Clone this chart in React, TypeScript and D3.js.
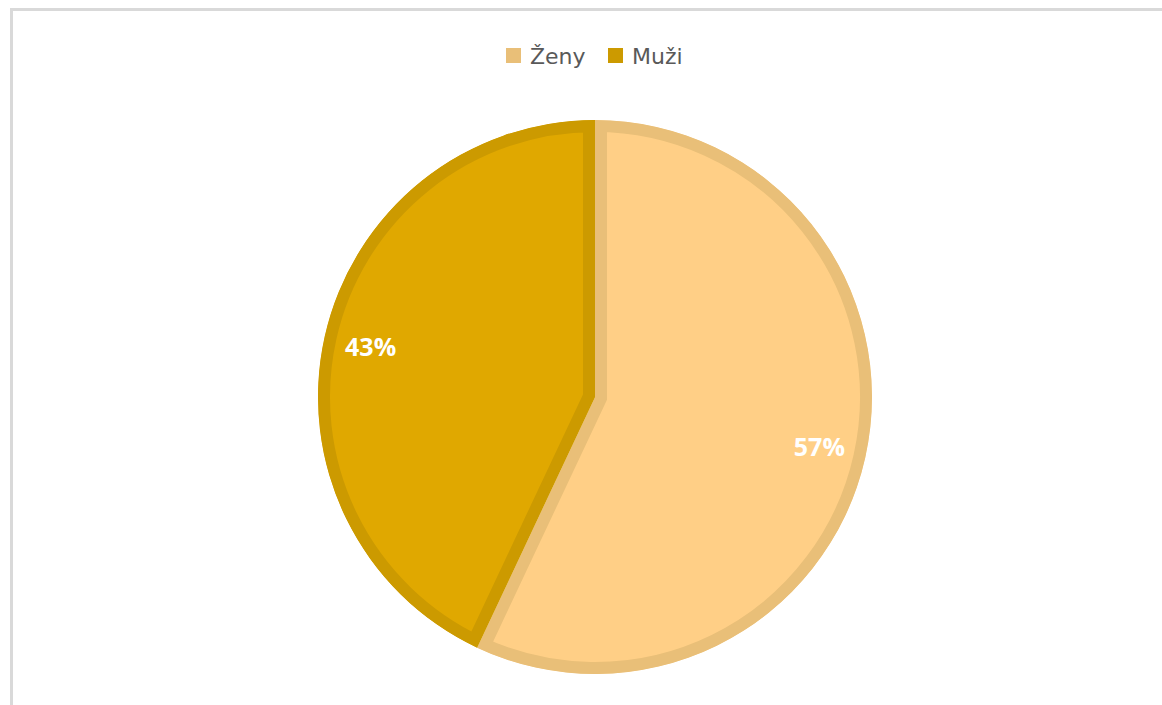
import React from "react";
import * as d3 from "d3";

const categories = ["Ženy", "Muži"];
const values = [57, 43];
const fills = ["#FFCF86", "#E0A800"];
const strokes = ["#E9BF78", "#CC9A00"];

const W = 1162;
const H = 705;
const cx = 595;
const cy = 397;
const R = 277;
const SW = 12;

export default function App() {
  const pie = d3.pie<number>().sort(null).value((d) => d)
    .startAngle(0).endAngle(2 * Math.PI);
  const arcs = pie(values);
  const arcGen = d3.arc<d3.PieArcDatum<number>>().innerRadius(0).outerRadius(R);
  const total = d3.sum(values);

  return (
    <svg width={W} height={H} style={{ position: "absolute", left: 0, top: 0 }}
      fontFamily="'Open Sans', sans-serif">
      <rect x={0} y={0} width={W} height={H} fill="#fff" />
      <line x1={11.5} y1={8} x2={11.5} y2={H} stroke="#d9d9d9" strokeWidth={3} />
      <line x1={10} y1={9.5} x2={W} y2={9.5} stroke="#d9d9d9" strokeWidth={3} />
      <defs>
        {arcs.map((a, i) => (
          <clipPath id={`clip${i}`} key={i}>
            <path d={arcGen(a) || ""} transform={`translate(${cx},${cy})`} />
          </clipPath>
        ))}
      </defs>
      {arcs.map((a, i) => (
        <g key={i} clipPath={`url(#clip${i})`}>
          <path d={arcGen(a) || ""} transform={`translate(${cx},${cy})`}
            fill={fills[i]} stroke={strokes[i]} strokeWidth={SW * 2} strokeLinejoin="miter" />
        </g>
      ))}
      {arcs.map((a, i) => {
        const mid = (a.startAngle + a.endAngle) / 2;
        const r = R * 0.83;
        const x = cx + r * Math.sin(mid);
        const y = cy - r * Math.cos(mid);
        return (
          <text key={i} x={x} y={y} dy="0.36em" textAnchor="middle" fill="#fff"
            fontWeight="bold" fontSize={25}>
            {`${Math.round((values[i] / total) * 100)}%`}
          </text>
        );
      })}
      <g>
        {categories.map((c, i) => {
          const x0 = i === 0 ? 506 : 608;
          return (
            <g key={c}>
              <rect x={x0} y={48} width={15} height={15} fill={strokes[i]} />
              <text x={x0 + 24} y={64} fontSize={22} fill="#595959"
                fontFamily="'DejaVu Sans', sans-serif">{c}</text>
            </g>
          );
        })}
      </g>
    </svg>
  );
}
